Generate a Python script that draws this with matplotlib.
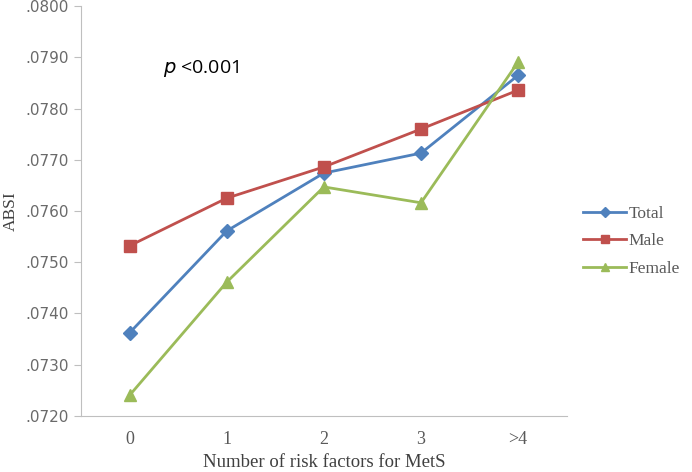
import matplotlib
matplotlib.use('Agg')
import matplotlib.pyplot as plt
from matplotlib.ticker import FuncFormatter, MultipleLocator

categories = ['0', '1', '2', '3', '>4']
total = [0.07362, 0.07561, 0.07674, 0.07713, 0.07865]
male = [0.07532, 0.07625, 0.07686, 0.07760, 0.07836]
female = [0.07240, 0.07461, 0.07647, 0.07616, 0.07891]

series = [
    ('Total', total, '#4F81BD', 'D', 7),
    ('Male', male, '#C0504D', 's', 8),
    ('Female', female, '#9BBB59', '^', 8.5),
]

fig = plt.figure(figsize=(6.92, 4.72), dpi=100)
ax = fig.add_axes([0.117, 0.119, 0.702, 0.868])

x = range(len(categories))
for name, values, color, marker, ms in series:
    ax.plot(x, values, color=color, marker=marker, markersize=ms, linewidth=2,
            label=name)

ax.set_xlim(-0.5, len(categories) - 0.5)
ax.set_ylim(0.0720, 0.0800)
ax.yaxis.set_major_locator(MultipleLocator(0.001))
ax.yaxis.set_major_formatter(FuncFormatter(lambda v, pos: f'{v:.4f}'[1:]))
ax.set_xticks(list(x))
ax.set_xticklabels(categories, family='Liberation Serif', fontsize=13, color='#595959')

for lab in ax.get_yticklabels():
    lab.set_family('DejaVu Sans')
    lab.set_fontsize(11)
    lab.set_color('#6a6a6a')

for s in ['top', 'right']:
    ax.spines[s].set_visible(False)
for s in ['left', 'bottom']:
    ax.spines[s].set_color('#BFBFBF')
ax.tick_params(axis='y', length=5, color='#BFBFBF', pad=4)
ax.tick_params(axis='x', length=0, pad=11)

ax.set_xlabel('Number of risk factors for MetS', family='Liberation Serif',
              fontsize=13.5, color='#404040', labelpad=4)
ax.set_ylabel('ABSI', family='Liberation Serif', fontsize=12.5, color='#404040')
# ylabel sits at the far left edge in the reference
ax.yaxis.set_label_coords(-0.127, 0.5)

ax.text(0.168, 0.849, r'$\it{p}$ <0.001', transform=ax.transAxes, fontsize=14,
        family='Open Sans', color='black', va='center')

leg = fig.legend(loc='center left', bbox_to_anchor=(0.82, 0.489), frameon=False,
                 prop={'family': 'Liberation Serif', 'size': 12.5},
                 handlelength=2.5, handletextpad=0.1, labelspacing=0.65,
                 markerscale=0.75)
for t in leg.get_texts():
    t.set_color('#595959')

fig.savefig('out.png', dpi=100)
